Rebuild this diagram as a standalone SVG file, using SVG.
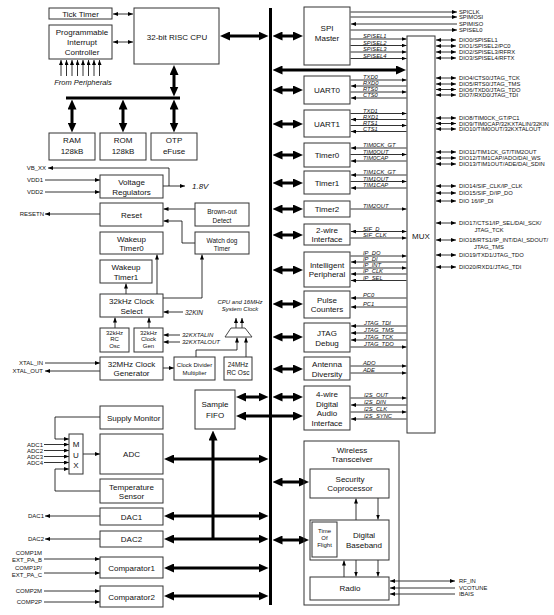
<svg xmlns="http://www.w3.org/2000/svg" width="554" height="615" viewBox="0 0 554 615">
<defs>
<marker id="a" markerUnits="userSpaceOnUse" markerWidth="5" markerHeight="4" viewBox="0 0 5 4" refX="5" refY="2" orient="auto-start-reverse"><path d="M0,0 L5,2 L0,4 z" fill="#000"/></marker>
<marker id="B" markerUnits="userSpaceOnUse" markerWidth="10" markerHeight="9" viewBox="0 0 10 9" refX="1" refY="4.5" orient="auto-start-reverse"><path d="M0,0 L10,4.5 L0,9 z" fill="#000"/></marker>
</defs>
<style>
.bx{fill:#fff;stroke:#333;stroke-width:1}
.c{fill:none;stroke:#000;stroke-width:0.8}
.ce{marker-end:url(#a)}
.cd{marker-start:url(#a);marker-end:url(#a)}
.T{fill:none;stroke:#000;stroke-width:3}
.Td{marker-start:url(#B);marker-end:url(#B)}
.Te{marker-end:url(#B)}
text{font-family:"Liberation Sans",Arial,sans-serif;fill:#111}
.m{font-size:8px;text-anchor:middle}
.sm{font-size:6.5px;text-anchor:middle}
.xs{font-size:6px;text-anchor:middle}
.sig{font-size:5.8px;font-style:italic}
.dio{font-size:5.8px}
.lbl{font-size:6px;text-anchor:end}
.it{font-style:italic}
</style>
<rect width="554" height="615" fill="#fff"/>

<g id="connectors">
<line x1="270.5" y1="8" x2="270.5" y2="605" stroke="#000" stroke-width="3"/>
<!-- CPU area -->
<line class="c cd" x1="113" y1="14" x2="133" y2="14"/>
<line class="c cd" x1="113" y1="42" x2="133" y2="42"/>
<line class="c ce" x1="61" y1="76" x2="61" y2="60"/>
<line class="c ce" x1="66.5" y1="76" x2="66.5" y2="60"/>
<line class="c ce" x1="72" y1="76" x2="72" y2="60"/>
<line class="c ce" x1="77.5" y1="76" x2="77.5" y2="60"/>
<line class="c ce" x1="83" y1="76" x2="83" y2="60"/>
<line class="c ce" x1="88.5" y1="76" x2="88.5" y2="60"/>
<line class="c ce" x1="94" y1="76" x2="94" y2="60"/>
<line class="c ce" x1="99.5" y1="76" x2="99.5" y2="60"/>
<line class="T Td" x1="229" y1="36" x2="259.5" y2="36"/>
<line class="T" x1="66" y1="98" x2="180" y2="98"/>
<line class="T Td" x1="174" y1="74" x2="174" y2="87.5"/>
<line class="T Td" x1="72" y1="108.5" x2="72" y2="123.5"/>
<line class="T Td" x1="123" y1="108.5" x2="123" y2="123.5"/>
<line class="T Td" x1="174" y1="108.5" x2="174" y2="123.5"/>
<!-- power / reset -->
<polyline class="c ce" points="169,186 169,168 48,168"/>
<line class="c ce" x1="163" y1="186" x2="185" y2="186"/>
<line class="c ce" x1="45" y1="180" x2="100" y2="180"/>
<line class="c ce" x1="45" y1="192" x2="100" y2="192"/>
<line class="c ce" x1="100" y1="214" x2="45" y2="214"/>
<line class="c ce" x1="195" y1="209" x2="163.5" y2="209"/>
<polyline class="c ce" points="195,243 182,243 182,221 163.5,221"/>
<!-- clocks -->
<line class="c ce" x1="126" y1="294" x2="126" y2="283.5"/>
<line class="c ce" x1="157" y1="294" x2="157" y2="254.5"/>
<polyline class="c ce" points="163,298 202,298 202,254.5"/>
<line class="c ce" x1="183" y1="312" x2="163.5" y2="312"/>
<line class="c ce" x1="115" y1="328" x2="115" y2="317.5"/>
<line class="c ce" x1="149" y1="328" x2="149" y2="317.5"/>
<line class="c ce" x1="180" y1="335" x2="163.5" y2="335"/>
<line class="c ce" x1="180" y1="342" x2="163.5" y2="342"/>
<line class="c ce" x1="45" y1="363" x2="100" y2="363"/>
<line class="c ce" x1="100" y1="371" x2="45" y2="371"/>
<line class="c ce" x1="163" y1="368" x2="174" y2="368"/>
<polyline class="c ce" points="196,357 196,350 237,350 237,337.5"/>
<line class="c ce" x1="246" y1="357" x2="246" y2="337.5"/>
<line class="c ce" x1="236" y1="328" x2="236" y2="318"/>
<line class="c ce" x1="242" y1="328" x2="242" y2="318"/>
<!-- ADC / analog -->
<polyline class="c ce" points="100,417 55,417 55,439 69,439"/>
<line class="c ce" x1="44" y1="444.5" x2="69" y2="444.5"/>
<line class="c ce" x1="44" y1="450.5" x2="69" y2="450.5"/>
<line class="c ce" x1="44" y1="456.5" x2="69" y2="456.5"/>
<line class="c ce" x1="44" y1="462.5" x2="69" y2="462.5"/>
<polyline class="c ce" points="100,491 55,491 55,469 69,469"/>
<line class="c ce" x1="83" y1="454" x2="100" y2="454"/>
<line class="c ce" x1="100" y1="516" x2="45" y2="516"/>
<line class="c ce" x1="100" y1="539" x2="45" y2="539"/>
<line class="c ce" x1="44" y1="559" x2="100" y2="559"/>
<line class="c ce" x1="44" y1="573" x2="100" y2="573"/>
<line class="c ce" x1="44" y1="591" x2="100" y2="591"/>
<line class="c ce" x1="44" y1="602" x2="100" y2="602"/>
<line class="T Td" x1="173" y1="459" x2="259.5" y2="459"/>
<line class="T Td" x1="173" y1="516" x2="259.5" y2="516"/>
<line class="T Td" x1="173" y1="539" x2="259.5" y2="539"/>
<line class="T Td" x1="173" y1="568" x2="259.5" y2="568"/>
<line class="T Td" x1="173" y1="596" x2="259.5" y2="596"/>
<line class="T Te" x1="213" y1="539" x2="213" y2="439.5"/>
<line class="T Td" x1="245" y1="397" x2="259.5" y2="397"/>
<line class="T Td" x1="281.5" y1="397" x2="294" y2="397"/>
<line class="T Td" x1="245" y1="416" x2="294" y2="416"/>
<!-- bus to right peripherals -->
<line class="T Td" x1="281.5" y1="36" x2="294" y2="36"/>
<line class="T Td" x1="281.5" y1="70" x2="397" y2="70"/>
<line class="T Td" x1="281.5" y1="90" x2="294" y2="90"/>
<line class="T Td" x1="281.5" y1="124" x2="294" y2="124"/>
<line class="T Td" x1="281.5" y1="155" x2="294" y2="155"/>
<line class="T Td" x1="281.5" y1="183" x2="294" y2="183"/>
<line class="T Td" x1="281.5" y1="209" x2="294" y2="209"/>
<line class="T Td" x1="281.5" y1="235" x2="294" y2="235"/>
<line class="T Td" x1="281.5" y1="270" x2="294" y2="270"/>
<line class="T Td" x1="281.5" y1="304" x2="294" y2="304"/>
<line class="T Td" x1="281.5" y1="337" x2="294" y2="337"/>
<line class="T Td" x1="281.5" y1="369" x2="294" y2="369"/>
<line class="T Td" x1="281.5" y1="482" x2="300" y2="482"/>
<line class="T Td" x1="281.5" y1="540" x2="300" y2="540"/>
<!-- SPI external -->
<line class="c ce" x1="350.5" y1="12" x2="457" y2="12"/>
<line class="c ce" x1="350.5" y1="17" x2="457" y2="17"/>
<line class="c ce" x1="457" y1="24" x2="351" y2="24"/>
<line class="c ce" x1="350.5" y1="30" x2="457" y2="30"/>
<!-- signals to MUX -->
<line class="c ce" x1="350.5" y1="39" x2="406.5" y2="39"/>
<line class="c ce" x1="350.5" y1="45.5" x2="406.5" y2="45.5"/>
<line class="c ce" x1="350.5" y1="52" x2="406.5" y2="52"/>
<line class="c ce" x1="350.5" y1="58.5" x2="406.5" y2="58.5"/>
<line class="c ce" x1="350.5" y1="80" x2="406.5" y2="80"/>
<line class="c ce" x1="406.5" y1="86" x2="351" y2="86"/>
<line class="c ce" x1="350.5" y1="92" x2="406.5" y2="92"/>
<line class="c ce" x1="406.5" y1="98" x2="351" y2="98"/>
<line class="c ce" x1="350.5" y1="113.5" x2="406.5" y2="113.5"/>
<line class="c ce" x1="406.5" y1="119.5" x2="351" y2="119.5"/>
<line class="c ce" x1="350.5" y1="125.5" x2="406.5" y2="125.5"/>
<line class="c ce" x1="406.5" y1="131.5" x2="351" y2="131.5"/>
<line class="c ce" x1="406.5" y1="148" x2="351" y2="148"/>
<line class="c ce" x1="350.5" y1="154.5" x2="406.5" y2="154.5"/>
<line class="c ce" x1="406.5" y1="161" x2="351" y2="161"/>
<line class="c ce" x1="406.5" y1="175" x2="351" y2="175"/>
<line class="c ce" x1="350.5" y1="181.5" x2="406.5" y2="181.5"/>
<line class="c ce" x1="406.5" y1="188" x2="351" y2="188"/>
<line class="c ce" x1="350.5" y1="209" x2="406.5" y2="209"/>
<line class="c cd" x1="351" y1="231.5" x2="406.5" y2="231.5"/>
<line class="c ce" x1="350.5" y1="238" x2="406.5" y2="238"/>
<line class="c ce" x1="350.5" y1="256" x2="406.5" y2="256"/>
<line class="c ce" x1="406.5" y1="262" x2="351" y2="262"/>
<line class="c ce" x1="350.5" y1="268" x2="406.5" y2="268"/>
<line class="c ce" x1="406.5" y1="274" x2="351" y2="274"/>
<line class="c ce" x1="406.5" y1="280.5" x2="351" y2="280.5"/>
<line class="c ce" x1="406.5" y1="298" x2="351" y2="298"/>
<line class="c ce" x1="406.5" y1="307" x2="351" y2="307"/>
<line class="c ce" x1="406.5" y1="326" x2="351" y2="326"/>
<line class="c ce" x1="406.5" y1="333" x2="351" y2="333"/>
<line class="c ce" x1="406.5" y1="340" x2="351" y2="340"/>
<line class="c ce" x1="350.5" y1="347" x2="406.5" y2="347"/>
<line class="c ce" x1="350.5" y1="366" x2="406.5" y2="366"/>
<line class="c ce" x1="350.5" y1="373" x2="406.5" y2="373"/>
<line class="c ce" x1="350.5" y1="398" x2="406.5" y2="398"/>
<line class="c ce" x1="406.5" y1="405" x2="351" y2="405"/>
<line class="c ce" x1="350.5" y1="412" x2="406.5" y2="412"/>
<line class="c ce" x1="406.5" y1="419" x2="351" y2="419"/>
<!-- DIO -->
<line class="c cd" x1="436" y1="40" x2="456" y2="40"/>
<line class="c cd" x1="436" y1="46" x2="456" y2="46"/>
<line class="c cd" x1="436" y1="52" x2="456" y2="52"/>
<line class="c cd" x1="436" y1="58" x2="456" y2="58"/>
<line class="c cd" x1="436" y1="78" x2="456" y2="78"/>
<line class="c cd" x1="436" y1="84" x2="456" y2="84"/>
<line class="c cd" x1="436" y1="89.5" x2="456" y2="89.5"/>
<line class="c cd" x1="436" y1="95" x2="456" y2="95"/>
<line class="c cd" x1="436" y1="118" x2="456" y2="118"/>
<line class="c cd" x1="436" y1="123.5" x2="456" y2="123.5"/>
<line class="c cd" x1="436" y1="129" x2="456" y2="129"/>
<line class="c cd" x1="436" y1="152" x2="456" y2="152"/>
<line class="c cd" x1="436" y1="158" x2="456" y2="158"/>
<line class="c cd" x1="436" y1="164" x2="456" y2="164"/>
<line class="c cd" x1="436" y1="186" x2="456" y2="186"/>
<line class="c cd" x1="436" y1="193" x2="456" y2="193"/>
<line class="c cd" x1="436" y1="201" x2="456" y2="201"/>
<line class="c cd" x1="436" y1="223" x2="456" y2="223"/>
<line class="c cd" x1="436" y1="240" x2="456" y2="240"/>
<line class="c cd" x1="436" y1="255" x2="456" y2="255"/>
<line class="c cd" x1="436" y1="267" x2="456" y2="267"/>
<!-- wireless internal -->
<line class="c ce" x1="356" y1="520" x2="356" y2="498.5"/>
<line class="c ce" x1="378" y1="498" x2="378" y2="519.5"/>
<line class="c ce" x1="344" y1="577" x2="344" y2="560.5"/>
<line class="c ce" x1="356" y1="560" x2="356" y2="576.5"/>
<line class="c ce" x1="378" y1="560" x2="378" y2="576.5"/>
<line class="c cd" x1="390" y1="581" x2="455" y2="581"/>
<line class="c ce" x1="455" y1="588" x2="390" y2="588"/>
<line class="c ce" x1="455" y1="594" x2="390" y2="594"/>
</g>

<g id="tick-timer"><rect class="bx" x="49" y="8" width="63" height="11"/><text class="m" x="80.5" y="16.5">Tick Timer</text></g>
<g id="interrupt-controller"><rect class="bx" x="49" y="25" width="63" height="34"/><text class="m" x="82" y="35">Programmable</text><text class="m" x="82" y="45">Interrupt</text><text class="m" x="82" y="55">Controller</text></g>
<g id="from-peripherals"><text class="it" x="83" y="85" font-size="7.5" text-anchor="middle">From Peripherals</text></g>
<g id="cpu"><rect class="bx" x="134" y="8" width="85" height="56"/><text class="m" x="177" y="40">32-bit RISC CPU</text></g>
<g id="ram"><rect class="bx" x="49" y="133" width="46" height="27"/><text class="m" x="72" y="143">RAM</text><text class="m" x="72" y="154">128kB</text></g>
<g id="rom"><rect class="bx" x="100" y="133" width="46" height="27"/><text class="m" x="123" y="143">ROM</text><text class="m" x="123" y="154">128kB</text></g>
<g id="otp"><rect class="bx" x="151" y="133" width="46" height="27"/><text class="m" x="174" y="143">OTP</text><text class="m" x="174" y="154">eFuse</text></g>

<g id="power-labels">
<text class="lbl" x="46" y="170">VB_XX</text>
<text class="lbl" x="43" y="182">VDD1</text>
<text class="lbl" x="43" y="194">VDD2</text>
<text class="it" x="192" y="189" font-size="8">1.8V</text>
<text class="lbl" x="44" y="216">RESETN</text>
</g>
<g id="voltage-regulators"><rect class="bx" x="100" y="175" width="63" height="23"/><text class="m" x="131.5" y="185">Voltage</text><text class="m" x="131.5" y="195">Regulators</text></g>
<g id="reset"><rect class="bx" x="100" y="203" width="63" height="23"/><text class="m" x="131.5" y="218">Reset</text></g>
<g id="brown-out"><rect class="bx" x="195" y="203" width="54" height="23"/><text class="sm" x="222" y="214">Brown-out</text><text class="sm" x="222" y="222.5">Detect</text></g>
<g id="watchdog"><rect class="bx" x="195" y="232" width="54" height="22"/><text class="sm" x="222" y="242.5">Watch dog</text><text class="sm" x="222" y="250.5">Timer</text></g>
<g id="wakeup0"><rect class="bx" x="100" y="232" width="63" height="22"/><text class="m" x="131.5" y="241.5">Wakeup</text><text class="m" x="131.5" y="251">Timer0</text></g>
<g id="wakeup1"><rect class="bx" x="100" y="260" width="52" height="23"/><text class="m" x="126" y="270">Wakeup</text><text class="m" x="126" y="279.5">Timer1</text></g>
<g id="clock-select"><rect class="bx" x="100" y="294" width="63" height="23"/><text class="m" x="131.5" y="304">32kHz Clock</text><text class="m" x="131.5" y="313.5">Select</text></g>
<g id="clock-labels">
<text class="it" x="185" y="314.5" font-size="6.5">32KIN</text>
<text class="it" x="182" y="337" font-size="6">32KXTALIN</text>
<text class="it" x="182" y="344" font-size="6">32KXTALOUT</text>
<text class="it xs" x="240" y="304">CPU and 16MHz</text>
<text class="it xs" x="240" y="310.5">System Clock</text>
<text class="lbl" x="43" y="365">XTAL_IN</text>
<text class="lbl" x="43" y="373">XTAL_OUT</text>
</g>
<g id="rc-osc"><rect class="bx" x="100" y="328" width="29" height="24"/><text class="xs" x="114.5" y="334.5">32kHz</text><text class="xs" x="114.5" y="341">RC</text><text class="xs" x="114.5" y="348">Osc</text></g>
<g id="clock-gen"><rect class="bx" x="134" y="328" width="29" height="24"/><text class="xs" x="148.5" y="334.5">32kHz</text><text class="xs" x="148.5" y="341">Clock</text><text class="xs" x="148.5" y="348">Gen</text></g>
<g id="clock-mux"><polygon points="231,328 245,328 252,337 225,337" fill="#fff" stroke="#333" stroke-width="0.9"/></g>
<g id="mhz-generator"><rect class="bx" x="100" y="357" width="63" height="23"/><text class="m" x="131.5" y="366.5">32MHz Clock</text><text class="m" x="131.5" y="376">Generator</text></g>
<g id="clock-divider"><rect class="bx" x="174" y="357" width="41" height="23"/><text class="xs" x="194.5" y="367">Clock Divider</text><text class="xs" x="194.5" y="374.5">Multiplier</text></g>
<g id="rc-osc-24"><rect class="bx" x="224" y="357" width="28" height="23"/><text class="sm" x="238" y="367">24MHz</text><text class="sm" x="238" y="374.5">RC Osc</text></g>

<g id="sample-fifo"><rect class="bx" x="195" y="390" width="40" height="39"/><text class="m" x="215" y="407">Sample</text><text class="m" x="215" y="417.5">FIFO</text></g>
<g id="supply-monitor"><rect class="bx" x="100" y="406" width="63" height="23"/><text x="107" y="421" font-size="8">Supply Monitor</text></g>
<g id="adc-mux"><rect class="bx" x="69" y="434" width="14" height="40"/><text class="m" x="76" y="447">M</text><text class="m" x="76" y="457.5">U</text><text class="m" x="76" y="468">X</text></g>
<g id="adc-labels">
<text class="lbl" x="43" y="446.5" font-size="5.2">ADC1</text>
<text class="lbl" x="43" y="452.5" font-size="5.2">ADC2</text>
<text class="lbl" x="43" y="458.5" font-size="5.2">ADC3</text>
<text class="lbl" x="43" y="464.5" font-size="5.2">ADC4</text>
<text class="lbl" x="44" y="518">DAC1</text>
<text class="lbl" x="44" y="541">DAC2</text>
<text class="lbl" x="42" y="555" font-size="5.3">COMP1M</text>
<text class="lbl" x="42" y="561.5" font-size="5.3">EXT_PA_B</text>
<text class="lbl" x="42" y="570" font-size="5.3">COMP1P/</text>
<text class="lbl" x="42" y="577" font-size="5.3">EXT_PA_C</text>
<text class="lbl" x="42" y="593" font-size="5.5">COMP2M</text>
<text class="lbl" x="42" y="604" font-size="5.5">COMP2P</text>
</g>
<g id="adc"><rect class="bx" x="100" y="434" width="63" height="40"/><text class="m" x="131.5" y="457">ADC</text></g>
<g id="temp-sensor"><rect class="bx" x="100" y="479" width="63" height="24"/><text class="m" x="131.5" y="489.5">Temperature</text><text class="m" x="131.5" y="499">Sensor</text></g>
<g id="dac1"><rect class="bx" x="100" y="508" width="63" height="17"/><text class="m" x="131.5" y="519.5">DAC1</text></g>
<g id="dac2"><rect class="bx" x="100" y="531" width="63" height="16"/><text class="m" x="131.5" y="542">DAC2</text></g>
<g id="comparator1"><rect class="bx" x="100" y="557" width="63" height="21"/><text class="m" x="131.5" y="570.5">Comparator1</text></g>
<g id="comparator2"><rect class="bx" x="100" y="586" width="63" height="21"/><text class="m" x="131.5" y="599.5">Comparator2</text></g>

<g id="spi-master"><rect class="bx" x="304" y="7" width="46" height="58"/><text class="m" x="327" y="31">SPI</text><text class="m" x="327" y="41">Master</text></g>
<g id="uart0"><rect class="bx" x="304" y="76" width="46" height="28"/><text class="m" x="327" y="93">UART0</text></g>
<g id="uart1"><rect class="bx" x="304" y="110" width="46" height="27"/><text class="m" x="327" y="126.5">UART1</text></g>
<g id="timer0"><rect class="bx" x="304" y="143" width="46" height="24"/><text class="m" x="327" y="158">Timer0</text></g>
<g id="timer1"><rect class="bx" x="304" y="171" width="46" height="23"/><text class="m" x="327" y="185.5">Timer1</text></g>
<g id="timer2"><rect class="bx" x="304" y="201" width="46" height="16"/><text class="m" x="327" y="212">Timer2</text></g>
<g id="two-wire"><rect class="bx" x="304" y="224" width="46" height="21"/><text class="m" x="327" y="233">2-wire</text><text class="m" x="327" y="242">Interface</text></g>
<g id="intelligent-peripheral"><rect class="bx" x="304" y="252" width="46" height="35"/><text class="m" x="327" y="268">Intelligent</text><text class="m" x="327" y="277">Peripheral</text></g>
<g id="pulse-counters"><rect class="bx" x="304" y="291" width="46" height="27"/><text class="m" x="327" y="303">Pulse</text><text class="m" x="327" y="312">Counters</text></g>
<g id="jtag"><rect class="bx" x="304" y="323" width="46" height="29"/><text class="m" x="327" y="336">JTAG</text><text class="m" x="327" y="345.5">Debug</text></g>
<g id="antenna"><rect class="bx" x="304" y="357" width="46" height="23"/><text class="m" x="327" y="367">Antenna</text><text class="m" x="327" y="377">Diversity</text></g>
<g id="audio"><rect class="bx" x="304" y="386" width="46" height="44"/><text class="m" x="327" y="397">4-wire</text><text class="m" x="327" y="406.5">Digital</text><text class="m" x="327" y="416">Audio</text><text class="m" x="327" y="425.5">Interface</text></g>
<g id="mux"><rect class="bx" x="407" y="36" width="28" height="397"/><text class="m" x="421" y="239">MUX</text></g>

<g id="signal-labels" class="sig">
<text x="363" y="38.3">SPISEL1</text>
<text x="363" y="44.8">SPISEL2</text>
<text x="363" y="51.3">SPISEL3</text>
<text x="363" y="57.8">SPISEL4</text>
<text x="363" y="79.3">TXD0</text>
<text x="363" y="85.3">RXD0</text>
<text x="363" y="91.3">RTS0</text>
<text x="363" y="97.3">CTS0</text>
<text x="363" y="112.8">TXD1</text>
<text x="363" y="118.8">RXD1</text>
<text x="363" y="124.8">RTS1</text>
<text x="363" y="130.8">CTS1</text>
<text x="363" y="147.3">TIM0CK_GT</text>
<text x="363" y="153.8">TIM0OUT</text>
<text x="363" y="160.3">TIM0CAP</text>
<text x="363" y="174.3">TIM1CK_GT</text>
<text x="363" y="180.8">TIM1OUT</text>
<text x="363" y="187.3">TIM1CAP</text>
<text x="363" y="208.3">TIM2OUT</text>
<text x="363" y="230.8">SIF_D</text>
<text x="363" y="237.3">SIF_CLK</text>
<text x="363" y="255.3">IP_DO</text>
<text x="363" y="261.3">IP_DI</text>
<text x="363" y="267.3">IP_INT</text>
<text x="363" y="273.3">IP_CLK</text>
<text x="363" y="279.8">IP_SEL</text>
<text x="363" y="297.3">PC0</text>
<text x="363" y="306.3">PC1</text>
<text x="364" y="325.3">JTAG_TDI</text>
<text x="364" y="332.3">JTAG_TMS</text>
<text x="364" y="339.3">JTAG_TCK</text>
<text x="364" y="346.3">JTAG_TDO</text>
<text x="363" y="365.3">ADO</text>
<text x="363" y="372.3">ADE</text>
<text x="364" y="397.3">I2S_OUT</text>
<text x="364" y="404.3">I2S_DIN</text>
<text x="364" y="411.3">I2S_CLK</text>
<text x="364" y="418.3">I2S_SYNC</text>
</g>

<g id="dio-labels" class="dio">
<text x="459" y="14">SPICLK</text>
<text x="459" y="19">SPIMOSI</text>
<text x="459" y="26">SPIMISO</text>
<text x="459" y="32">SPISEL0</text>
<text x="459" y="42">DIO0/SPISEL1</text>
<text x="459" y="48">DIO1/SPISEL2/PC0</text>
<text x="459" y="54">DIO2/SPISEL3/RFRX</text>
<text x="459" y="60">DIO3/SPISEL4/RFTX</text>
<text x="459" y="80">DIO4/CTS0/JTAG_TCK</text>
<text x="459" y="86">DIO5/RTS0/JTAG_TMS</text>
<text x="459" y="91.5">DIO6/TXD0/JTAG_TDO</text>
<text x="459" y="97">DIO7/RXD0/JTAG_TDI</text>
<text x="459" y="120">DIO8/TIM0CK_GT/PC1</text>
<text x="459" y="125.5">DIO9/TIM0CAP/32KXTALIN/32KIN</text>
<text x="459" y="131">DIO10/TIM0OUT/32KXTALOUT</text>
<text x="459" y="154">DIO11/TIM1CK_GT/TIM2OUT</text>
<text x="459" y="160">DIO12/TIM1CAP/ADO/DAI_WS</text>
<text x="459" y="166">DIO13/TIM1OUT/ADE/DAI_SDIN</text>
<text x="459" y="188">DIO14/SIF_CLK/IP_CLK</text>
<text x="459" y="195">DIO15/SIF_D/IP_DO</text>
<text x="459" y="203">DIO 16/IP_DI</text>
<text x="459" y="225">DIO17/CTS1/IP_SEL/DAI_SCK/</text>
<text x="489" y="231.5" text-anchor="middle">JTAG_TCK</text>
<text x="459" y="242">DIO18/RTS1/IP_INT/DAI_SDOUT/</text>
<text x="489" y="248.5" text-anchor="middle">JTAG_TMS</text>
<text x="459" y="257">DIO19/TXD1/JTAG_TDO</text>
<text x="459" y="269">DIO20/RXD1/JTAG_TDI</text>
<text x="459" y="583">RF_IN</text>
<text x="459" y="590">VCOTUNE</text>
<text x="459" y="596">IBAIS</text>
</g>

<g id="wireless-transceiver"><rect x="304" y="441" width="95" height="164" fill="none" stroke="#333" stroke-width="1"/><text class="m" x="352" y="453">Wireless</text><text class="m" x="352" y="462">Transceiver</text></g>
<g id="security-coprocessor"><rect class="bx" x="310" y="469" width="79" height="29"/><text class="m" x="350" y="482">Security</text><text class="m" x="350" y="491">Coprocessor</text></g>
<g id="digital-baseband"><rect class="bx" x="310" y="520" width="79" height="40"/><text class="m" x="364" y="538">Digital</text><text class="m" x="364" y="548">Baseband</text></g>
<g id="time-of-flight"><rect class="bx" x="312" y="522" width="25" height="35"/><text class="xs" x="324.5" y="533">Time</text><text class="xs" x="324.5" y="539.5">Of</text><text class="xs" x="324.5" y="546.5">Flight</text></g>
<g id="radio"><rect class="bx" x="310" y="577" width="79" height="23"/><text class="m" x="350" y="591">Radio</text></g>
</svg>
